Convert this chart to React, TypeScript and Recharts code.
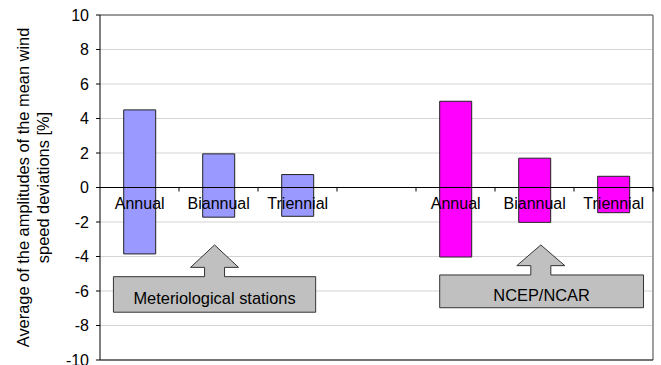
import { BarChart, Bar, Cell, XAxis, YAxis, CartesianGrid, LabelList, usePlotArea } from "recharts"

const FONT = "Arial, 'Liberation Sans', sans-serif"

// amplitude ranges [%], lower and upper ends of each bar
const periods = ["Annual", "Biannual", "Triennial"]
const stationHigh = [4.5, 1.95, 0.75]
const stationLow = [-3.85, -1.72, -1.67]
const ncepHigh = [5.0, 1.7, 0.65]
const ncepLow = [-4.03, -2.02, -1.46]

const yTicks = [-10, -8, -6, -4, -2, 0, 2, 4, 6, 8, 10]
const Y_MIN = -10
const Y_MAX = 10

const STATION_FILL = "#9999ff"
const NCEP_FILL = "#ff00ff"

const titleLines = ["Average of the amplitudes of the mean wind", "speed deviations [%]"]

interface Row {
  key: string
  label: string
  range: [number, number] | null
  fill: string
}

const rows: Row[] = [
  ...periods.map((p, i) => ({
    key: `st-${i}`,
    label: p,
    range: [stationLow[i], stationHigh[i]] as [number, number],
    fill: STATION_FILL,
  })),
  { key: "gap", label: "", range: null, fill: "none" },
  ...periods.map((p, i) => ({
    key: `nc-${i}`,
    label: p,
    range: [ncepLow[i], ncepHigh[i]] as [number, number],
    fill: NCEP_FILL,
  })),
]

// callouts in data units: x in category slots, y in %
interface Callout {
  text: string
  left: number
  right: number
  top: number
  bottom: number
  tipX: number
  tipY: number
  headY: number
}

const callouts: Callout[] = [
  { text: "Meteriological stations", left: 0.17, right: 2.73, top: -5.17, bottom: -7.23, tipX: 1.45, tipY: -3.33, headY: -4.63 },
  { text: "NCEP/NCAR", left: 4.3, right: 6.88, top: -5.07, bottom: -6.97, tipX: 5.58, tipY: -3.33, headY: -4.53 },
]

function usePlot() {
  const area = usePlotArea()
  if (!area) return null
  const { x, y, width, height } = area
  const step = width / rows.length
  return {
    ...area,
    step,
    px: (slot: number) => x + slot * step,
    py: (v: number) => y + ((Y_MAX - v) / (Y_MAX - Y_MIN)) * height,
  }
}

function PlotFrame() {
  const p = usePlot()
  if (!p) return null
  const { x, y, width, height } = p
  return (
    <g>
      <line x1={x} x2={x + width} y1={y} y2={y} stroke="#808080" strokeWidth={1.5} />
      <line x1={x + width} x2={x + width} y1={y} y2={y + height} stroke="#808080" strokeWidth={1.5} />
      <line x1={x} x2={x + width} y1={y + height} y2={y + height} stroke="#000" />
    </g>
  )
}

function YTitle() {
  const p = usePlot()
  if (!p) return null
  const cy = p.y + p.height / 2
  return (
    <g>
      {titleLines.map((line, i) => {
        const cx = p.x - 77 + i * 20
        return (
          <text
            key={line}
            x={cx}
            y={cy}
            dy="0.35em"
            transform={`rotate(-90 ${cx} ${cy})`}
            textAnchor="middle"
            fontFamily={FONT}
            fontSize={16.4}
            fill="#000"
          >
            {line}
          </text>
        )
      })}
    </g>
  )
}

// horizontal axis running through zero, with ticks between the categories
function ZeroAxis() {
  const p = usePlot()
  if (!p) return null
  const zeroY = p.py(0)
  return (
    <g>
      <line x1={p.x} x2={p.x + p.width} y1={zeroY} y2={zeroY} stroke="#000" />
      {rows.map((r, i) => (
        <line key={`t-${r.key}`} x1={p.px(i + 1)} x2={p.px(i + 1)} y1={zeroY} y2={zeroY + 4} stroke="#000" />
      ))}
    </g>
  )
}

// category name under the zero line, drawn over the bar together with the axis segment
function CategoryLabel(props: any) {
  const p = usePlot()
  const { x, width, value } = props
  if (!p || !value) return null
  const zeroY = p.py(0)
  return (
    <g>
      <line x1={x - 1} x2={x + width + 1} y1={zeroY} y2={zeroY} stroke="#000" />
      <text x={x + width / 2} y={zeroY + 21.5} textAnchor="middle" fontFamily={FONT} fontSize={16} fill="#000">
        {value}
      </text>
    </g>
  )
}

function Callouts() {
  const p = usePlot()
  if (!p) return null
  const headHalf = 24
  const shaftHalf = 10
  return (
    <g>
      {callouts.map((c) => {
        const l = p.px(c.left)
        const r = p.px(c.right)
        const t = p.py(c.top)
        const b = p.py(c.bottom)
        const tx = p.px(c.tipX)
        const ty = p.py(c.tipY)
        const hy = p.py(c.headY)
        const d = [
          `M${l},${b}`,
          `L${l},${t}`,
          `L${tx - shaftHalf},${t}`,
          `L${tx - shaftHalf},${hy}`,
          `L${tx - headHalf},${hy}`,
          `L${tx},${ty}`,
          `L${tx + headHalf},${hy}`,
          `L${tx + shaftHalf},${hy}`,
          `L${tx + shaftHalf},${t}`,
          `L${r},${t}`,
          `L${r},${b}`,
          "Z",
        ].join(" ")
        return (
          <g key={c.text}>
            <path d={d} fill="#c0c0c0" stroke="#333" strokeWidth={1} />
            <text
              x={(l + r) / 2}
              y={(t + b) / 2 + 9.5}
              textAnchor="middle"
              fontFamily={FONT}
              fontSize={16.4}
              fill="#000"
            >
              {c.text}
            </text>
          </g>
        )
      })}
    </g>
  )
}

export default function App() {
  return (
    <div style={{ position: "absolute", left: 0, top: 0, background: "#fff" }}>
      <BarChart
        width={661}
        height={365}
        data={rows}
        margin={{ top: 15, right: 8, bottom: 5, left: 0 }}
        barCategoryGap="30%"
      >
        <CartesianGrid horizontal vertical={false} stroke="#d4d4d4" strokeWidth={1} />
        <XAxis dataKey="key" hide />
        <YAxis
          domain={[Y_MIN, Y_MAX]}
          ticks={yTicks}
          interval={0}
          width={100}
          axisLine={{ stroke: "#000" }}
          tickLine={{ stroke: "#000" }}
          tickSize={4}
          tickMargin={7}
          tick={{ fill: "#000", fontSize: 16, fontFamily: FONT }}
        />
        <PlotFrame />
        <YTitle />
        <ZeroAxis />
        <Bar dataKey="range" stroke="#222" strokeWidth={1} isAnimationActive={false}>
          {rows.map((r) => (
            <Cell key={r.key} fill={r.fill} />
          ))}
          <LabelList dataKey="label" content={<CategoryLabel />} />
        </Bar>
        <Callouts />
      </BarChart>
    </div>
  )
}
